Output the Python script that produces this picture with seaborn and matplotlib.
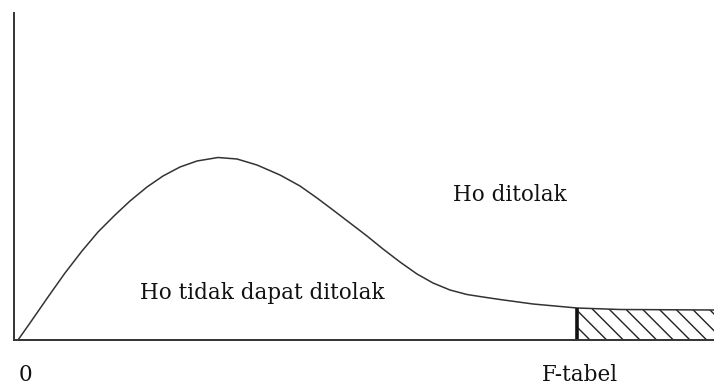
import matplotlib
matplotlib.use("Agg")
import matplotlib.pyplot as plt
import seaborn as sns
import pandas as pd

# Curve (x: horizontal units, y: density height units)
curve_x = [4, 16, 34, 51, 68, 84, 101, 116, 133, 149, 166, 183, 204, 223, 243,
           266, 286, 303, 319, 336, 353, 369, 386, 403, 419, 436, 453, 469, 486,
           519, 563, 606, 700]
curve_y = [0, 17, 43, 67, 89, 108, 125, 139, 153, 164, 173, 179, 182.5, 181, 175,
           165, 154, 142, 130, 117, 104, 91, 78, 66, 57, 50, 45.5, 43, 40.5,
           36, 32, 30.5, 30]
f_tabel = 563
labels = ["Ho ditolak", "Ho tidak dapat ditolak", "0", "F-tabel"]

sns.set_style("white")
plt.rcParams["font.family"] = ["DejaVu Serif"]
plt.rcParams["hatch.linewidth"] = 1.0

fig = plt.figure(figsize=(7.14, 3.85), dpi=100)
ax = fig.add_axes([14 / 714, 45 / 385, 700 / 714, 327 / 385])

df = pd.DataFrame({"x": curve_x, "y": curve_y})
sns.lineplot(data=df, x="x", y="y", ax=ax, color="#333333", linewidth=1.1,
             sort=False, solid_joinstyle="round", solid_capstyle="round")

tail = df[df["x"] >= f_tabel]
ax.fill_between(tail["x"], 0, tail["y"], facecolor="white", edgecolor="#222222",
                hatch="\\\\", linewidth=0)
ax.vlines(f_tabel, 0, tail["y"].iloc[0], color="#111111", linewidth=2.6)

ax.set_xlim(0, 700)
ax.set_ylim(0, 327)
ax.set_xlabel("")
ax.set_ylabel("")
ax.set_xticks([])
ax.set_yticks([])
for s in ["top", "right"]:
    ax.spines[s].set_visible(False)
for s in ["left", "bottom"]:
    ax.spines[s].set_color("#333333")
    ax.spines[s].set_linewidth(1.4)

fs = 15.5
ax.text(496, 145, labels[0], ha="center", va="center", fontsize=fs, color="#111111")
ax.text(248, 47, labels[1], ha="center", va="center", fontsize=fs, color="#111111")
ax.text(11, -35, labels[2], ha="center", va="center", fontsize=fs, color="#111111",
        clip_on=False)
ax.text(566, -35, labels[3], ha="center", va="center", fontsize=fs, color="#111111",
        clip_on=False)

fig.savefig("out.png", dpi=100, facecolor="white")
